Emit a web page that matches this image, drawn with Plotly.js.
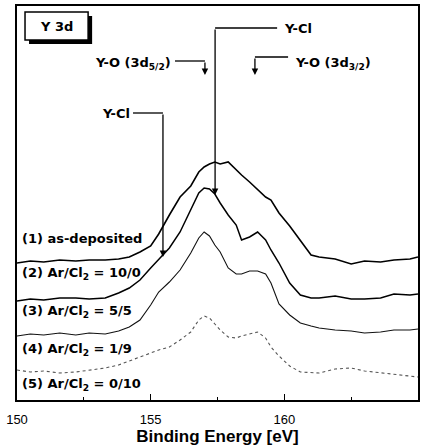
<!DOCTYPE html>
<html>
<head>
<meta charset="utf-8">
<script src="https://cdn.plot.ly/plotly-3.0.1.min.js"></script>
<style>html,body{margin:0;padding:0;background:#fff;}#chart{width:427px;height:448px;}</style>
</head>
<body>
<div id="chart"></div>
<script>
// Binding energy grid (eV)
const energy = [150.0,150.5,151.0,151.6,152.2,152.7,153.3,153.8,154.2,154.6,155.0,155.3,155.7,156.1,156.5,156.8,157.0,157.2,157.4,157.6,157.9,158.2,158.4,158.7,159.0,159.3,159.5,159.8,160.2,160.6,161.0,161.3,161.9,162.5,163.0,163.6,164.1,164.7,165.0];
// Offset intensities (arb. units)
const asDeposited = [137,139,138,140,139,140,140,141,143,148,154,166,185,203,214,228,233,236,238,236,238,230,225,218,210,203,200,187,174,160,145,143,141,136,139,138,140,141,143];
const arCl_10_0 = [99,101,100,102,102,101,102,107,112,120,132,141,152,168,190,207,212,211,206,197,185,175,160,163,168,160,150,137,117,105,102,102,104,101,101,102,106,105,106];
const arCl_5_5 = [64,66,65,67,65,67,66,69,73,80,95,108,118,130,147,162,168,164,155,148,132,126,126,129,129,126,117,96,85,77,74,72,70,69,67,68,70,70,71];
const arCl_1_9 = [30,28,29,27,28,30,32,35,39,43,47,50,53,60,68,80,84,82,76,70,63,62,64,66,68,62,53,44,34,28,27,27,31,32,29,27,26,24,23];

const seriesNames = ['(1) as-deposited','(2) Ar/Cl<sub>2</sub> = 10/0','(3) Ar/Cl<sub>2</sub> = 5/5','(4) Ar/Cl<sub>2</sub> = 1/9','(5) Ar/Cl<sub>2</sub> = 0/10'];
const tickVals = [150,155,160,165];
const tickText = ['150','155','160','165'];

const traces = [
  {x: energy, y: asDeposited, mode:'lines', line:{color:'#000', width:1.6}},
  {x: energy, y: arCl_10_0, mode:'lines', line:{color:'#000', width:1.5}},
  {x: energy, y: arCl_5_5, mode:'lines', line:{color:'#111', width:1.1}},
  {x: energy, y: arCl_1_9, mode:'lines', line:{color:'#555', width:1.1, dash:'dot'}}
];

const lblFont = {family:'DejaVu Sans', size:13, color:'#000'};
const labelY = [162, 127, 89, 51, 16];
const annotations = seriesNames.map((t,i)=>({
  x:150.1, y:labelY[i], xref:'x', yref:'y', text:'<b>'+t+'</b>', showarrow:false,
  xanchor:'left', yanchor:'middle', font:lblFont
}));

function arrow(x, yFrom, yTo){
  return {x:x, y:yTo, ax:x, ay:yFrom, xref:'x', yref:'y', axref:'x', ayref:'y', text:'',
    showarrow:true, arrowhead:2, arrowsize:1, arrowwidth:1.3, arrowcolor:'#000', standoff:0, startstandoff:0};
}
annotations.push(
  {x:154.30, y:287, xref:'x', yref:'y', text:'<b>Y-Cl</b>', showarrow:false, xanchor:'right', yanchor:'middle', font:lblFont},
  {x:155.84, y:337, xref:'x', yref:'y', text:'<b>Y-O (3d<sub>5/2</sub>)</b>', showarrow:false, xanchor:'right', yanchor:'middle', font:lblFont},
  {x:159.91, y:372, xref:'x', yref:'y', text:'<b>Y-Cl</b>', showarrow:false, xanchor:'left', yanchor:'middle', font:lblFont},
  {x:160.33, y:337, xref:'x', yref:'y', text:'<b>Y-O (3d<sub>3/2</sub>)</b>', showarrow:false, xanchor:'left', yanchor:'middle', font:lblFont},
  {x:151.48, y:374, xref:'x', yref:'y', text:'<b>Y 3d</b>', showarrow:false, xanchor:'center', yanchor:'middle', font:lblFont},
  arrow(155.46, 287, 143),
  arrow(157.03, 339, 325),
  arrow(157.41, 372, 205),
  arrow(158.90, 343, 325)
);

const ln = {color:'#000', width:1.3};
const shapes = [
  {type:'line', xref:'x', yref:'y', x0:154.34, x1:155.46, y0:287, y1:287, line:ln},
  {type:'line', xref:'x', yref:'y', x0:155.91, x1:157.03, y0:339, y1:339, line:ln},
  {type:'line', xref:'x', yref:'y', x0:157.41, x1:159.73, y0:372, y1:372, line:ln},
  {type:'line', xref:'x', yref:'y', x0:158.90, x1:160.14, y0:343, y1:343, line:ln},
  {type:'rect', xref:'x', yref:'y', x0:150.45, x1:152.81, y0:356, y1:384, fillcolor:'#000', line:{width:0}},
  {type:'rect', xref:'x', yref:'y', x0:150.30, x1:152.66, y0:360, y1:388, fillcolor:'#fff', line:{color:'#000', width:1.5}}
];

const layout = {
  width:427, height:448,
  margin:{l:17, r:9, t:6, b:48},
  paper_bgcolor:'#fff', plot_bgcolor:'#fff',
  showlegend:false,
  xaxis:{range:[150,165], tickvals:tickVals, ticktext:tickText, ticks:'inside', ticklen:6, tickwidth:1.3, tickcolor:'#000',
    minor:{dtick:2.5, tick0:150, ticks:'inside', ticklen:3, tickcolor:'#000'},
    showline:true, linecolor:'#000', linewidth:1.6, mirror:true, showgrid:false, zeroline:false,
    tickfont:{family:'Liberation Sans', size:13, color:'#000'}, ticklabelstandoff:7,
    title:{text:'<b>Binding Energy [eV]</b>', font:{family:'Liberation Sans', size:17, color:'#000'}, standoff:3}},
  yaxis:{range:[0,394], showticklabels:false, ticks:'', showline:true, linecolor:'#000', linewidth:1.6, mirror:true,
    showgrid:false, zeroline:false},
  annotations:annotations,
  shapes:shapes
};

Plotly.newPlot('chart', traces, layout, {staticPlot:true, displayModeBar:false});
</script>
</body>
</html>
